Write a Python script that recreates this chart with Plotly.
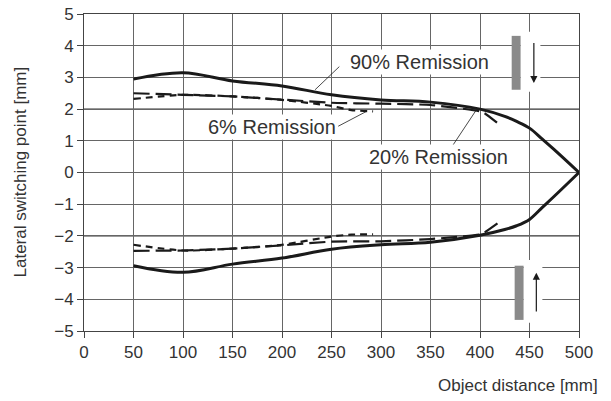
import plotly.graph_objects as go

# ---- data ----
dist_90 = [50, 100, 150, 200, 250, 300, 350, 400, 425, 437, 450, 463, 475, 500]
upper_90 = [2.95, 3.15, 2.89, 2.73, 2.45, 2.29, 2.22, 2.0, 1.77, 1.61, 1.4, 1.05, 0.72, 0.0]
lower_90 = [-2.94, -3.15, -2.89, -2.7, -2.42, -2.28, -2.2, -1.98, -1.8, -1.68, -1.48, -1.1, -0.75, 0.0]

dist_20 = [50, 100, 150, 200, 250, 300, 350, 400, 405, 420]
upper_20 = [2.5, 2.45, 2.4, 2.3, 2.2, 2.17, 2.13, 1.93, 1.86, 1.5]
lower_20 = [-2.47, -2.46, -2.4, -2.3, -2.18, -2.17, -2.1, -1.95, -1.88, -1.55]

dist_6 = [50, 100, 150, 200, 250, 270, 292]
upper_6 = [2.32, 2.45, 2.4, 2.29, 2.1, 1.97, 1.93]
lower_6 = [-2.28, -2.46, -2.4, -2.28, -2.02, -1.96, -1.95]

x_ticks = [0, 50, 100, 150, 200, 250, 300, 350, 400, 450, 500]
y_ticks = [-5, -4, -3, -2, -1, 0, 1, 2, 3, 4, 5]

labels = ["90% Remission", "6% Remission", "20% Remission"]
label_pos = [(339, 3.49), (189.5, 1.42), (358.5, 0.5)]
leader_lines = [((257.9, 3.34), (233.4, 2.61)),
                ((256.8, 1.46), (285.5, 1.93)),
                ((370.7, 0.77), (396.4, 1.98))]

FONT = "Liberation Sans, Arial, sans-serif"
INK = "#1a1a1a"
TXT = "#333"

fig = go.Figure()

def add_line(x, y, width, dash, smooth):
    fig.add_trace(go.Scatter(x=x, y=y, mode="lines",
                             line=dict(color=INK, width=width, dash=dash,
                                       shape="spline", smoothing=smooth),
                             showlegend=False, hoverinfo="skip"))

add_line(dist_6, upper_6, 2.2, "7px,5px", 0.7)
add_line(dist_6, lower_6, 2.2, "7px,5px", 0.7)
add_line(dist_20, upper_20, 2.2, "16px,6px", 0.5)
add_line(dist_20, lower_20, 2.2, "16px,6px", 0.5)
add_line(dist_90, upper_90, 3, "solid", 1.0)
add_line(dist_90, lower_90, 3, "solid", 1.0)

shapes = []
for yv in (2, -2):
    shapes.append(dict(type="line", xref="x", yref="y", x0=0, x1=500, y0=yv, y1=yv,
                       line=dict(color="#000", width=1), layer="below"))
for (a, b) in leader_lines:
    shapes.append(dict(type="line", xref="x", yref="y", x0=a[0], y0=a[1], x1=b[0], y1=b[1],
                       line=dict(color=INK, width=0.8)))
shapes.append(dict(type="rect", xref="x", yref="y", x0=441, x1=461, y0=2.55, y1=4.44,
                   fillcolor="white", line=dict(width=0)))
shapes.append(dict(type="rect", xref="x", yref="y", x0=444, x1=463, y0=-4.74, y1=-2.76,
                   fillcolor="white", line=dict(width=0)))
shapes.append(dict(type="rect", xref="x", yref="y", x0=432, x1=441, y0=2.61, y1=4.31,
                   fillcolor="#8a8a8a", line=dict(width=0)))
shapes.append(dict(type="rect", xref="x", yref="y", x0=435, x1=444, y0=-4.65, y1=-2.94,
                   fillcolor="#8a8a8a", line=dict(width=0)))

annotations = []
for t, (xx, yy) in zip(labels, label_pos):
    annotations.append(dict(x=xx, y=yy, xref="x", yref="y", text=t, showarrow=False,
                            font=dict(family=FONT, size=20, color=TXT),
                            bgcolor="white", borderpad=1))
annotations.append(dict(x=454.4, y=2.82, ax=454.4, ay=4.13, xref="x", yref="y",
                        axref="x", ayref="y", text="", showarrow=True,
                        arrowhead=2, arrowsize=1.2, arrowwidth=1.2, arrowcolor=INK))
annotations.append(dict(x=456.9, y=-3.16, ax=456.9, ay=-4.43, xref="x", yref="y",
                        axref="x", ayref="y", text="", showarrow=True,
                        arrowhead=2, arrowsize=1.2, arrowwidth=1.2, arrowcolor=INK))
annotations.append(dict(x=1, y=0, xref="paper", yref="paper", xanchor="right",
                        yanchor="middle", xshift=21, yshift=-54, showarrow=False,
                        text="Object distance [mm]",
                        font=dict(family=FONT, size=17, color=TXT)))
annotations.append(dict(x=0, y=0.5, xref="paper", yref="paper", xanchor="center",
                        yanchor="middle", xshift=-64, showarrow=False, textangle=-90,
                        text="Lateral switching point [mm]",
                        font=dict(family=FONT, size=17, color=TXT)))

fig.update_layout(
    width=611, height=401,
    margin=dict(l=84, r=32, t=14, b=70),
    paper_bgcolor="white", plot_bgcolor="white",
    font=dict(family=FONT, size=17, color=TXT),
    shapes=shapes, annotations=annotations,
    hovermode=False,
)
fig.update_xaxes(range=[0, 500], tickvals=x_ticks, showgrid=True, gridcolor="#666",
                 gridwidth=1, zeroline=False, showline=True, linecolor="#444",
                 linewidth=1, mirror=True, ticks="outside", ticklen=6,
                 tickcolor="#444", tickfont=dict(size=17, color=TXT), automargin=False,
                 ticklabeloverflow="allow")
fig.update_yaxes(range=[-5, 5], tickvals=y_ticks, showgrid=True, gridcolor="#666",
                 gridwidth=1, zeroline=False, showline=True, linecolor="#444",
                 linewidth=1, mirror=True, ticks="outside", ticklen=6,
                 tickcolor="#444", tickfont=dict(size=17, color=TXT), automargin=False,
                 ticklabeloverflow="allow")

fig.write_html("out.html", config={"displayModeBar": False},
               post_script="document.body.style.margin='0';")
